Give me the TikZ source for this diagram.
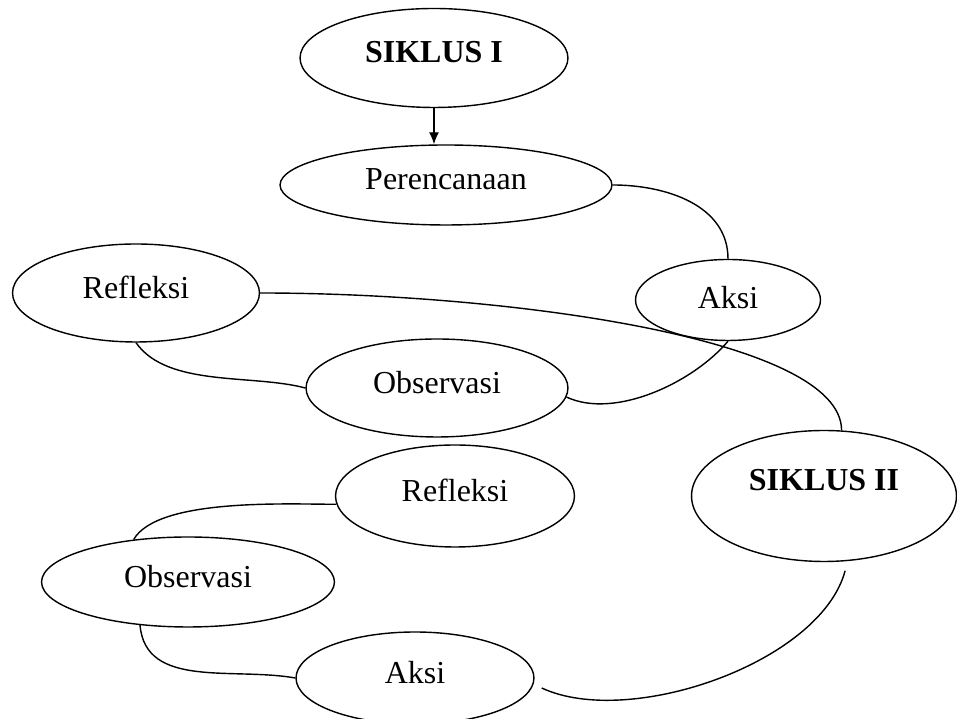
\documentclass[tikz,border=0pt]{standalone}
\usepackage{fontspec}
\setmainfont{Liberation Serif}
\usetikzlibrary{arrows.meta, shapes.geometric}
\tikzset{
  >=Latex,
  oval/.style={
    draw, ellipse, line width=0.8pt, inner sep=0pt,
    text depth=0.24cm, font=\fontsize{18.2}{22}\selectfont
  },
  head/.style={oval, font=\fontsize{18.2}{22}\selectfont\bfseries},
  link/.style={line width=0.8pt},
  arr/.style={-{Latex[length=2.4mm,width=2mm]}, line width=0.8pt}
}
\begin{document}
\begin{tikzpicture}[x=0.02cm, y=0.02cm]
  \useasboundingbox (0,0) rectangle (957,719);

  % siklus I
  \node[head, minimum width=5.36cm, minimum height=1.98cm] (siklusA) at (434,661) {SIKLUS I};
  \node[oval, minimum width=6.64cm, minimum height=1.60cm] (rencanaA) at (446,534) {Perencanaan};
  \node[oval, minimum width=3.70cm, minimum height=1.62cm, text depth=0.1cm] (aksiA) at (728,419) {Aksi};
  \node[oval, minimum width=4.94cm, minimum height=1.96cm] (refleksiA) at (136,426) {Refleksi};
  \node[oval, minimum width=5.24cm, minimum height=1.96cm] (obsA) at (437,331) {Observasi};

  % siklus II
  \node[head, minimum width=5.30cm, minimum height=2.62cm, text depth=0.64cm] (siklusB) at (824,223) {SIKLUS II};
  \node[oval, minimum width=4.78cm, minimum height=2.04cm] (refleksiB) at (455,223) {Refleksi};
  \node[oval, minimum width=5.86cm, minimum height=1.80cm] (obsB) at (188,137) {Observasi};
  \node[oval, minimum width=4.76cm, minimum height=1.84cm] (aksiB) at (415,41) {Aksi};

  \draw[arr] (siklusA.south) -- (siklusA.south |- rencanaA.north);
  \draw[link] (rencanaA.east) to[out=0, in=90] (aksiA.north);
  \draw[link] (obsA.-4) to[out=-25, in=-130, looseness=0.8] (aksiA.south);
  \draw[link] (obsA.west) to[out=165, in=-55, looseness=0.8] (refleksiA.south);
  \draw[link] (refleksiA.east) .. controls +(241,0) and +(0,93) .. (siklusB.75);

  \draw[link, shorten <=0.2cm, shorten >=0.18cm] (siklusB.-70) to[out=-105, in=-25, looseness=0.8] (aksiB.-3);
  \draw[link] (obsB.-138) to[out=-85, in=170] (aksiB.west);
  \draw[link] (obsB.142) to[out=60, in=180, looseness=0.6] (refleksiB.184);
\end{tikzpicture}
\end{document}
